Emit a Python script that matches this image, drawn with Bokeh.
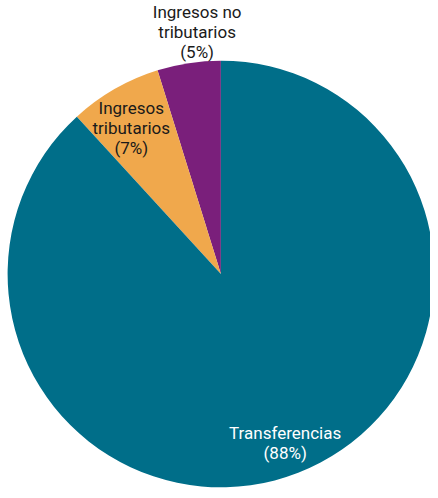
import math
from bokeh.plotting import figure
from bokeh.models import Range1d, ColumnDataSource
from bokeh.core.properties import value
from bokeh.embed import file_html
from bokeh.resources import INLINE

# Data (counter-clockwise from top)
categories = ["Ingresos no\ntributarios\n(5%)", "Ingresos\ntributarios\n(7%)", "Transferencias\n(88%)"]
shares = [4.8, 7.0, 88.2]
colors = ["#7A1F7B", "#F0A84C", "#006E89"]
label_colors = ["#1a1a1a", "#1a1a1a", "#FFFFFF"]
label_radius = [1.147, 0.787, 0.851]
label_dx = [13, -6, -1.5]

W, H = 430, 490
cx, cy, R = 220.4, 216.5, 213.3

total = sum(shares)
starts, ends, lx, ly = [], [], [], []
a = math.pi / 2
for s, rf, dx in zip(shares, label_radius, label_dx):
    span = 2 * math.pi * s / total
    starts.append(a)
    ends.append(a + span)
    mid = a + span / 2
    lx.append(cx + rf * R * math.cos(mid) + dx)
    ly.append(cy + rf * R * math.sin(mid))
    a += span

src = ColumnDataSource(dict(start=starts, end=ends, color=colors,
                            x=[cx] * 3, y=[cy] * 3))
lab = ColumnDataSource(dict(x=lx, y=ly, text=categories, color=label_colors))

p = figure(width=W, height=H, output_backend="svg", toolbar_location=None,
           x_range=Range1d(0, W), y_range=Range1d(0, H), min_border=0)
p.axis.visible = False
p.grid.visible = False
p.outline_line_color = None
p.background_fill_color = "white"
p.border_fill_color = "white"

p.wedge(x="x", y="y", radius=R, start_angle="start", end_angle="end",
        direction="anticlock", fill_color="color", line_color=None, source=src)

p.text(x="x", y="y", text="text", source=lab, text_color="color",
       text_font=value("Roboto"), text_font_size="17px",
       text_align="center", text_baseline="middle", text_line_height=1.0)

open("out.html", "w").write(file_html(p, INLINE))
